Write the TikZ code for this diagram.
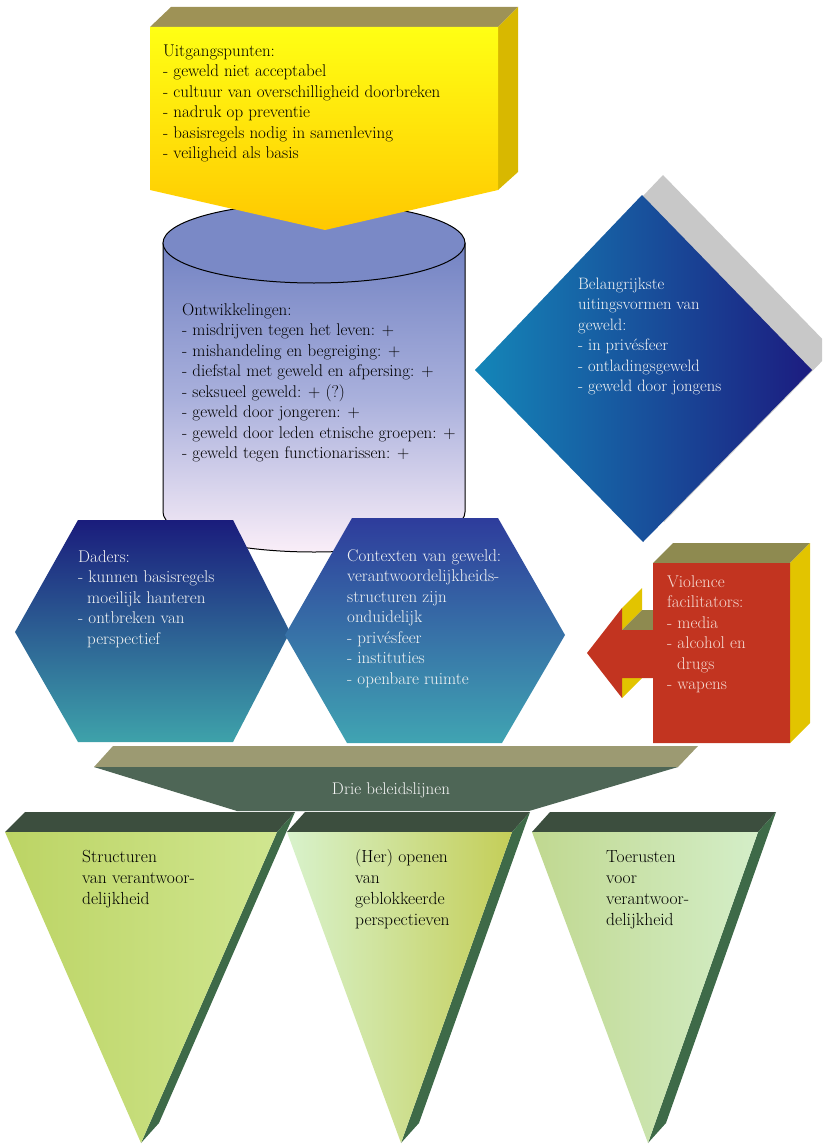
\documentclass[tikz,border=0pt]{standalone}
\definecolor{ylwA}{HTML}{FFFF14}
\definecolor{ylwB}{HTML}{FFC800}
\definecolor{olivetop}{HTML}{9E9256}
\definecolor{ylwside}{HTML}{D8B800}
\definecolor{cylA}{HTML}{7383C3}
\definecolor{cylM}{HTML}{A9B0DC}
\definecolor{cylB}{HTML}{FAEEF8}
\definecolor{dmL}{HTML}{1486B8}
\definecolor{dmR}{HTML}{1C1C80}
\definecolor{dmshadow}{HTML}{C8C8C8}
\definecolor{hxLA}{HTML}{1A1C7C}
\definecolor{hxLB}{HTML}{3EA2AA}
\definecolor{hxRA}{HTML}{2E3C9C}
\definecolor{hxRB}{HTML}{40A4B2}
\definecolor{redbox}{HTML}{C23420}
\definecolor{redtop}{HTML}{8E8A50}
\definecolor{redside}{HTML}{E2C400}
\definecolor{bandtop}{HTML}{9C9A72}
\definecolor{bandfront}{HTML}{4E6656}
\definecolor{tritop}{HTML}{3C4E3E}
\definecolor{triside}{HTML}{3E6A48}
\definecolor{triAa}{HTML}{BCD464}
\definecolor{triAb}{HTML}{D0E690}
\definecolor{triBa}{HTML}{D8F2CC}
\definecolor{triBb}{HTML}{C4CE58}
\definecolor{triCa}{HTML}{C0D890}
\definecolor{triCb}{HTML}{D4EEC8}
\definecolor{textwhite}{HTML}{F4F4F4}
\definecolor{textpink}{HTML}{F6DCD4}
\begin{document}
\begin{tikzpicture}[x=1pt,y=-1pt,
  txt/.style={inner sep=0pt, anchor=north west, align=left, font=\fontsize{17}{20.5}\selectfont},
  wtxt/.style={txt, text=textwhite},
  tritxt/.style={inner sep=0pt, anchor=north west, align=left, font=\fontsize{17.5}{21}\selectfont, text=black},
  outline/.style={draw=black, line width=1pt}]
\useasboundingbox (0,0) rectangle (822,1145);

% ---------- cylinder ----------
\path[top color=cylA, bottom color=cylB, middle color=cylM, outline]
  (163,243) -- (163,512) arc[start angle=180, end angle=0, x radius=151, y radius=40] -- (465,243) -- cycle;
\path[fill=cylA!95!white, outline] (314,243) ellipse[x radius=151, y radius=40];

% ---------- yellow box ----------
\fill[olivetop] (150,27) -- (171,7) -- (518,7) -- (498,27) -- cycle;
\fill[ylwside] (498,27) -- (518,7) -- (518,172) -- (498,190) -- cycle;
\path[top color=ylwA, bottom color=ylwB] (150,27) -- (498,27) -- (498,190) -- (325,230) -- (150,190) -- cycle;

% ---------- diamond ----------
\begin{scope}
\clip (0,0) rectangle (822,1145);
\fill[dmshadow] (663,175) -- (833,350) -- (664,522) -- (496,350) -- cycle;
\end{scope}
\path[left color=dmL, right color=dmR] (642,195) -- (812,370) -- (643,542) -- (475,370) -- cycle;

% ---------- hexagons ----------
\path[top color=hxLA, bottom color=hxLB] (78,520) -- (233,520) -- (290,632) -- (233,742) -- (78,742) -- (15,632) -- cycle;
\path[top color=hxRA, bottom color=hxRB] (352,518) -- (498,518) -- (565,635) -- (502,743) -- (347,743) -- (285,635) -- cycle;

% ---------- red box with arrow ----------
\fill[redtop] (653,563) -- (673,543) -- (810,543) -- (790,563) -- cycle;
\fill[redside] (790,563) -- (810,543) -- (810,723) -- (790,743) -- cycle;
\fill[redside] (622,608) -- (642,588) -- (642,610) -- (622,630) -- cycle;
\fill[redtop] (622,630) -- (642,610) -- (673,610) -- (653,630) -- cycle;
\fill[redside] (622,678) -- (642,658) -- (642,678) -- (622,698) -- cycle;
\fill[redbox] (653,563) -- (790,563) -- (790,743) -- (653,743) -- (653,678) -- (622,678)
  -- (622,698) -- (587,653) -- (622,608) -- (622,630) -- (653,630) -- cycle;

% ---------- band ----------
\fill[bandtop] (94,767) -- (113,746) -- (698,746) -- (678,767) -- cycle;
\fill[bandfront] (94,767) -- (678,767) -- (529,811) -- (237,811) -- cycle;

% ---------- triangles ----------
\fill[tritop] (5,832) -- (25,812) -- (295,812) -- (277,832) -- cycle;
\fill[triside] (277,832) -- (295,812) -- (159,1123) -- (141,1143) -- cycle;
\path[left color=triAa, right color=triAb] (5,832) -- (277,832) -- (141,1143) -- cycle;

\fill[tritop] (287,832) -- (305,812) -- (530,812) -- (512,832) -- cycle;
\fill[triside] (512,832) -- (530,812) -- (419,1123) -- (401,1143) -- cycle;
\path[left color=triBa, right color=triBb] (287,832) -- (512,832) -- (401,1143) -- cycle;

\fill[tritop] (532,832) -- (550,812) -- (776,812) -- (758,832) -- cycle;
\fill[triside] (758,832) -- (776,812) -- (666,1123) -- (648,1143) -- cycle;
\path[left color=triCa, right color=triCb] (532,832) -- (758,832) -- (648,1143) -- cycle;

% ---------- texts ----------
\node[txt] (uitg) at (163,41.5) {\strut Uitgangspunten:\\- geweld niet acceptabel\\- cultuur van overschilligheid doorbreken\\- nadruk op preventie\\- basisregels nodig in samenleving\\- veiligheid als basis};
\node[txt] (ontw) at (182,300.5) {\strut Ontwikkelingen:\\- misdrijven tegen het leven: +\\- mishandeling en begreiging: +\\- diefstal met geweld en afpersing: +\\- seksueel geweld: + (?)\\- geweld door jongeren: +\\- geweld door leden etnische groepen: +\\- geweld tegen functionarissen: +};
\node[wtxt, font=\fontsize{16.5}{20.5}\selectfont] (uiting) at (578,274.5) {\strut Belangrijkste\\uitingsvormen van\\geweld:\\- in privésfeer\\- ontladingsgeweld\\- geweld door jongens};
\node[wtxt] (daders) at (78,547.5) {\strut Daders:\\- kunnen basisregels\\\hspace*{9pt}moeilijk hanteren\\- ontbreken van\\\hspace*{9pt}perspectief};
\node[wtxt] (context) at (347,546.5) {\strut Contexten van geweld:\\verantwoordelijkheids-\\structuren zijn\\onduidelijk\\- privésfeer\\- instituties\\- openbare ruimte};
\node[txt, text=textpink] (facil) at (667,572.5) {\strut Violence\\facilitators:\\- media\\- alcohol en\\\hspace*{10pt}drugs\\- wapens};
\node[inner sep=0pt, font=\fontsize{17}{20}\selectfont, text=textwhite] (drie) at (391,790) {Drie beleidslijnen};
\node[tritxt] (t1) at (82,847.5) {\strut Structuren\\van verantwoor-\\delijkheid};
\node[tritxt] (t2) at (355,847.5) {\strut (Her) openen\\van\\geblokkeerde\\perspectieven};
\node[tritxt] (t3) at (606,847.5) {\strut Toerusten\\voor\\verantwoor-\\delijkheid};
\end{tikzpicture}
\end{document}
